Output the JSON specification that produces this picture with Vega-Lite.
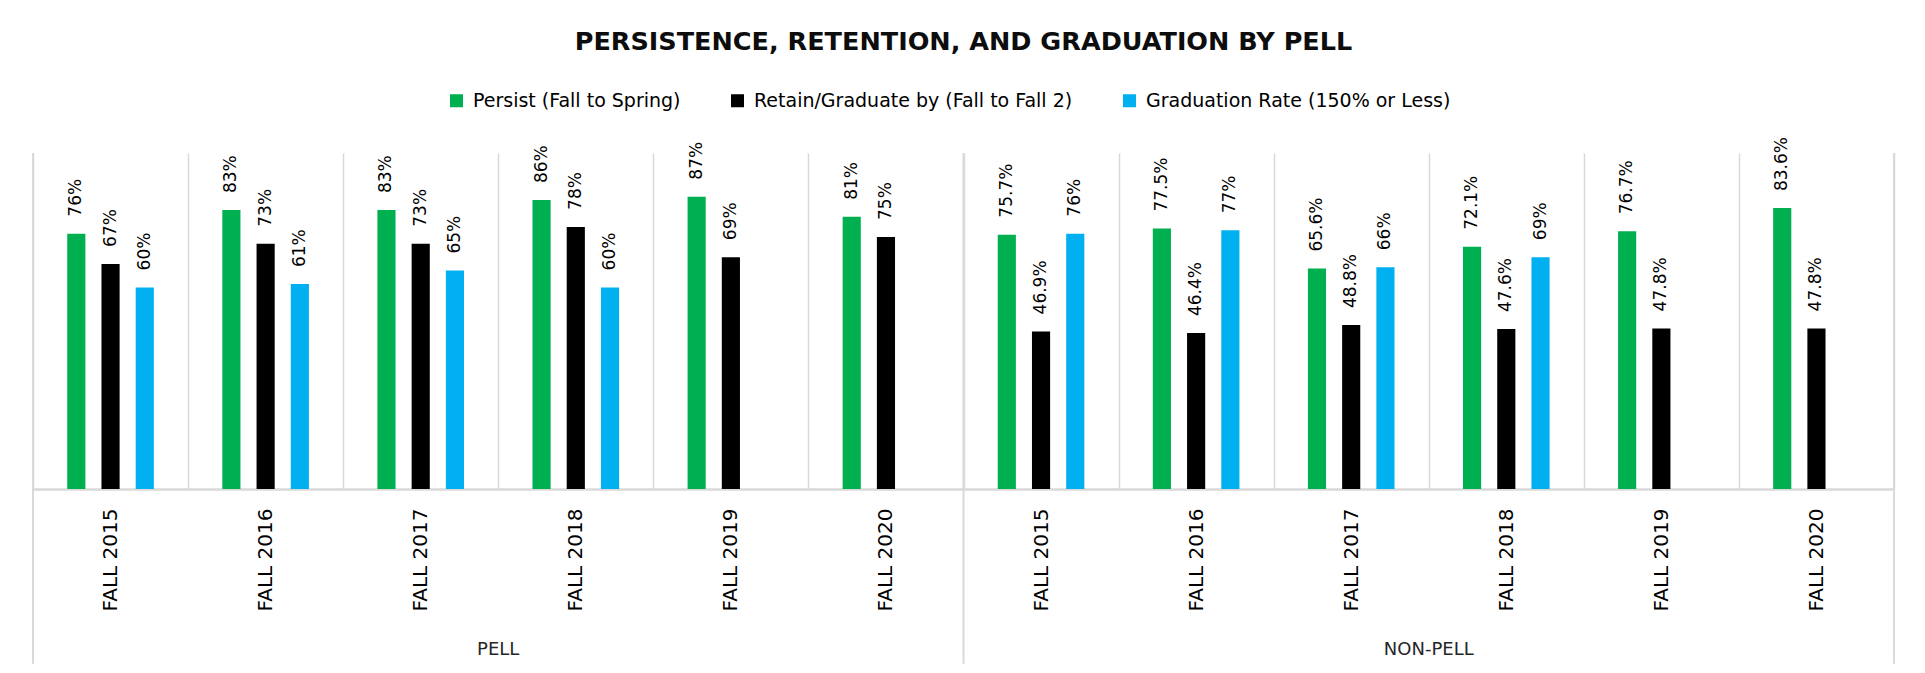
{
  "$schema": "https://vega.github.io/schema/vega-lite/v6.json",
  "width": 1861,
  "height": 336,
  "autosize": {"type": "none"},
  "padding": {"left": 33, "right": 31, "top": 153, "bottom": 184},
  "background": "#ffffff",
  "title": {
    "text": "PERSISTENCE, RETENTION, AND GRADUATION BY PELL",
    "font": "DejaVu Sans",
    "fontSize": 25.5,
    "fontWeight": "bold",
    "color": "#0d0d0d",
    "anchor": "middle",
    "offset": 36
  },
  "data": {
    "values": [
      {"cat": "PELL|FALL 2015", "group": "PELL", "year": "FALL 2015", "series": "Persist (Fall to Spring)", "value": 0.76, "label": "76%"},
      {"cat": "PELL|FALL 2015", "group": "PELL", "year": "FALL 2015", "series": "Retain/Graduate by (Fall to Fall 2)", "value": 0.67, "label": "67%"},
      {"cat": "PELL|FALL 2015", "group": "PELL", "year": "FALL 2015", "series": "Graduation Rate (150% or Less)", "value": 0.60, "label": "60%"},
      {"cat": "PELL|FALL 2016", "group": "PELL", "year": "FALL 2016", "series": "Persist (Fall to Spring)", "value": 0.83, "label": "83%"},
      {"cat": "PELL|FALL 2016", "group": "PELL", "year": "FALL 2016", "series": "Retain/Graduate by (Fall to Fall 2)", "value": 0.73, "label": "73%"},
      {"cat": "PELL|FALL 2016", "group": "PELL", "year": "FALL 2016", "series": "Graduation Rate (150% or Less)", "value": 0.61, "label": "61%"},
      {"cat": "PELL|FALL 2017", "group": "PELL", "year": "FALL 2017", "series": "Persist (Fall to Spring)", "value": 0.83, "label": "83%"},
      {"cat": "PELL|FALL 2017", "group": "PELL", "year": "FALL 2017", "series": "Retain/Graduate by (Fall to Fall 2)", "value": 0.73, "label": "73%"},
      {"cat": "PELL|FALL 2017", "group": "PELL", "year": "FALL 2017", "series": "Graduation Rate (150% or Less)", "value": 0.65, "label": "65%"},
      {"cat": "PELL|FALL 2018", "group": "PELL", "year": "FALL 2018", "series": "Persist (Fall to Spring)", "value": 0.86, "label": "86%"},
      {"cat": "PELL|FALL 2018", "group": "PELL", "year": "FALL 2018", "series": "Retain/Graduate by (Fall to Fall 2)", "value": 0.78, "label": "78%"},
      {"cat": "PELL|FALL 2018", "group": "PELL", "year": "FALL 2018", "series": "Graduation Rate (150% or Less)", "value": 0.60, "label": "60%"},
      {"cat": "PELL|FALL 2019", "group": "PELL", "year": "FALL 2019", "series": "Persist (Fall to Spring)", "value": 0.87, "label": "87%"},
      {"cat": "PELL|FALL 2019", "group": "PELL", "year": "FALL 2019", "series": "Retain/Graduate by (Fall to Fall 2)", "value": 0.69, "label": "69%"},
      {"cat": "PELL|FALL 2019", "group": "PELL", "year": "FALL 2019", "series": "Graduation Rate (150% or Less)", "value": null, "label": null},
      {"cat": "PELL|FALL 2020", "group": "PELL", "year": "FALL 2020", "series": "Persist (Fall to Spring)", "value": 0.81, "label": "81%"},
      {"cat": "PELL|FALL 2020", "group": "PELL", "year": "FALL 2020", "series": "Retain/Graduate by (Fall to Fall 2)", "value": 0.75, "label": "75%"},
      {"cat": "PELL|FALL 2020", "group": "PELL", "year": "FALL 2020", "series": "Graduation Rate (150% or Less)", "value": null, "label": null},
      {"cat": "NON-PELL|FALL 2015", "group": "NON-PELL", "year": "FALL 2015", "series": "Persist (Fall to Spring)", "value": 0.757, "label": "75.7%"},
      {"cat": "NON-PELL|FALL 2015", "group": "NON-PELL", "year": "FALL 2015", "series": "Retain/Graduate by (Fall to Fall 2)", "value": 0.469, "label": "46.9%"},
      {"cat": "NON-PELL|FALL 2015", "group": "NON-PELL", "year": "FALL 2015", "series": "Graduation Rate (150% or Less)", "value": 0.76, "label": "76%"},
      {"cat": "NON-PELL|FALL 2016", "group": "NON-PELL", "year": "FALL 2016", "series": "Persist (Fall to Spring)", "value": 0.775, "label": "77.5%"},
      {"cat": "NON-PELL|FALL 2016", "group": "NON-PELL", "year": "FALL 2016", "series": "Retain/Graduate by (Fall to Fall 2)", "value": 0.464, "label": "46.4%"},
      {"cat": "NON-PELL|FALL 2016", "group": "NON-PELL", "year": "FALL 2016", "series": "Graduation Rate (150% or Less)", "value": 0.77, "label": "77%"},
      {"cat": "NON-PELL|FALL 2017", "group": "NON-PELL", "year": "FALL 2017", "series": "Persist (Fall to Spring)", "value": 0.656, "label": "65.6%"},
      {"cat": "NON-PELL|FALL 2017", "group": "NON-PELL", "year": "FALL 2017", "series": "Retain/Graduate by (Fall to Fall 2)", "value": 0.488, "label": "48.8%"},
      {"cat": "NON-PELL|FALL 2017", "group": "NON-PELL", "year": "FALL 2017", "series": "Graduation Rate (150% or Less)", "value": 0.66, "label": "66%"},
      {"cat": "NON-PELL|FALL 2018", "group": "NON-PELL", "year": "FALL 2018", "series": "Persist (Fall to Spring)", "value": 0.721, "label": "72.1%"},
      {"cat": "NON-PELL|FALL 2018", "group": "NON-PELL", "year": "FALL 2018", "series": "Retain/Graduate by (Fall to Fall 2)", "value": 0.476, "label": "47.6%"},
      {"cat": "NON-PELL|FALL 2018", "group": "NON-PELL", "year": "FALL 2018", "series": "Graduation Rate (150% or Less)", "value": 0.69, "label": "69%"},
      {"cat": "NON-PELL|FALL 2019", "group": "NON-PELL", "year": "FALL 2019", "series": "Persist (Fall to Spring)", "value": 0.767, "label": "76.7%"},
      {"cat": "NON-PELL|FALL 2019", "group": "NON-PELL", "year": "FALL 2019", "series": "Retain/Graduate by (Fall to Fall 2)", "value": 0.478, "label": "47.8%"},
      {"cat": "NON-PELL|FALL 2019", "group": "NON-PELL", "year": "FALL 2019", "series": "Graduation Rate (150% or Less)", "value": null, "label": null},
      {"cat": "NON-PELL|FALL 2020", "group": "NON-PELL", "year": "FALL 2020", "series": "Persist (Fall to Spring)", "value": 0.836, "label": "83.6%"},
      {"cat": "NON-PELL|FALL 2020", "group": "NON-PELL", "year": "FALL 2020", "series": "Retain/Graduate by (Fall to Fall 2)", "value": 0.478, "label": "47.8%"},
      {"cat": "NON-PELL|FALL 2020", "group": "NON-PELL", "year": "FALL 2020", "series": "Graduation Rate (150% or Less)", "value": null, "label": null}
    ]
  },
  "encoding": {
    "x": {
      "field": "cat",
      "type": "nominal",
      "sort": ["PELL|FALL 2015", "PELL|FALL 2016", "PELL|FALL 2017", "PELL|FALL 2018", "PELL|FALL 2019", "PELL|FALL 2020",
               "NON-PELL|FALL 2015", "NON-PELL|FALL 2016", "NON-PELL|FALL 2017", "NON-PELL|FALL 2018", "NON-PELL|FALL 2019", "NON-PELL|FALL 2020"],
      "scale": {"paddingInner": 0, "paddingOuter": 0},
      "axis": {
        "title": null,
        "labelExpr": "slice(datum.label, indexof(datum.label, '|') + 1)",
        "labelAngle": -90,
        "labelAlign": "right",
        "labelBaseline": "middle",
        "labelPadding": 19,
        "labelFont": "DejaVu Sans",
        "labelFontSize": 20,
        "labelColor": "#000000",
        "ticks": false,
        "tickBand": "extent",
        "grid": true,
        "gridColor": "#d9d9d9",
        "gridWidth": 1.5,
        "domainColor": "#d9d9d9",
        "domainWidth": 2.5
      }
    },
    "y": {
      "field": "value",
      "type": "quantitative",
      "scale": {"domain": [0, 1], "nice": false, "zero": true},
      "axis": null
    }
  },
  "layer": [
    {
      "mark": {"type": "bar"},
      "encoding": {
        "xOffset": {
          "field": "series",
          "type": "nominal",
          "scale": {
            "domain": ["Persist (Fall to Spring)", "Retain/Graduate by (Fall to Fall 2)", "Graduation Rate (150% or Less)"],
            "paddingInner": 0.47,
            "paddingOuter": 1.155
          }
        },
        "color": {
          "field": "series",
          "type": "nominal",
          "scale": {
            "domain": ["Persist (Fall to Spring)", "Retain/Graduate by (Fall to Fall 2)", "Graduation Rate (150% or Less)"],
            "range": ["#00b050", "#000000", "#00b0f0"]
          },
          "legend": {
            "orient": "none",
            "legendX": 414,
            "legendY": -62,
            "direction": "horizontal",
            "title": null,
            "symbolType": "square",
            "symbolSize": 169,
            "symbolStrokeWidth": 0,
            "labelFont": "DejaVu Sans",
            "labelFontSize": 19,
            "labelColor": "#000000",
            "labelLimit": 0,
            "labelOffset": 7,
            "columnPadding": 47
          }
        }
      }
    },
    {
      "mark": {
        "type": "text",
        "angle": 270,
        "align": "left",
        "baseline": "middle",
        "dx": 17,
        "font": "DejaVu Sans",
        "fontSize": 17,
        "color": "#000000"
      },
      "encoding": {
        "xOffset": {
          "field": "series",
          "type": "nominal",
          "scale": {
            "domain": ["Persist (Fall to Spring)", "Retain/Graduate by (Fall to Fall 2)", "Graduation Rate (150% or Less)"],
            "paddingInner": 0.47,
            "paddingOuter": 1.155
          }
        },
        "text": {"field": "label", "type": "nominal"}
      }
    },
    {
      "transform": [
        {"filter": "datum.year === 'FALL 2015' && datum.series === 'Persist (Fall to Spring)'"}
      ],
      "mark": {"type": "rule", "color": "#d9d9d9", "strokeWidth": 2},
      "encoding": {
        "x": {"field": "cat", "type": "nominal", "bandPosition": 0},
        "y": {"datum": 1},
        "y2": {"datum": -0.52}
      }
    },
    {
      "transform": [
        {"filter": "datum.cat === 'NON-PELL|FALL 2020' && datum.series === 'Persist (Fall to Spring)'"}
      ],
      "mark": {"type": "rule", "color": "#d9d9d9", "strokeWidth": 2},
      "encoding": {
        "x": {"field": "cat", "type": "nominal", "bandPosition": 1},
        "y": {"datum": 1},
        "y2": {"datum": -0.52}
      }
    },
    {
      "transform": [
        {"filter": "datum.year === 'FALL 2018' && datum.series === 'Persist (Fall to Spring)'"}
      ],
      "mark": {
        "type": "text",
        "align": "center",
        "baseline": "middle",
        "font": "DejaVu Sans",
        "fontSize": 18,
        "color": "#262626"
      },
      "encoding": {
        "x": {"field": "cat", "type": "nominal", "bandPosition": 0},
        "y": {"datum": -0.478},
        "text": {"field": "group", "type": "nominal"}
      }
    }
  ],
  "config": {
    "view": {"stroke": null}
  }
}
